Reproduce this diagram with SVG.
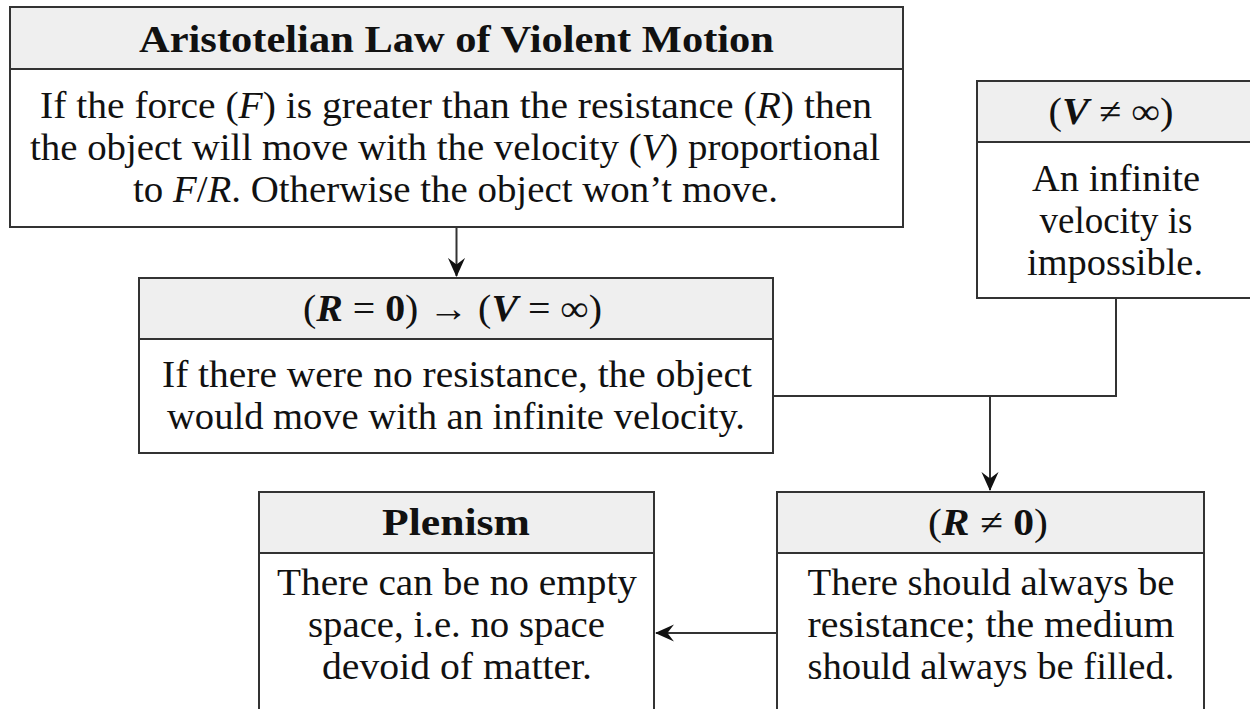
<svg xmlns="http://www.w3.org/2000/svg" width="1250" height="709" viewBox="0 0 1250 709">
<style>
.hd{fill:#efefef;stroke:#333;stroke-width:2}
.bd{fill:#ffffff;stroke:#333;stroke-width:2}
text{font-family:"Liberation Serif","Times New Roman",serif;font-size:37px;fill:#111;text-anchor:middle}
.b{font-weight:bold}
.i{font-style:italic}
.bi{font-weight:bold;font-style:italic}
.con{fill:none;stroke:#333;stroke-width:2}
</style>
<defs>
<marker id="arr" viewBox="0 0 20 20" refX="19" refY="10" markerWidth="19" markerHeight="19" markerUnits="userSpaceOnUse" orient="auto">
<path d="M0,1 L20,10 L0,19 L7,10 z" fill="#111"/>
</marker>
</defs>
<rect width="1250" height="709" fill="#fff"/>
<g id="connectors">
<path class="con" d="M456.5,227 V276" marker-end="url(#arr)"/>
<path class="con" d="M1116,298 V396 H990"/>
<path class="con" d="M773,396 H990 V490" marker-end="url(#arr)"/>
<path class="con" d="M777,633 H656" marker-end="url(#arr)"/>
</g>
<g id="node-law">
<rect class="bd" x="10" y="69" width="893" height="158"/>
<rect class="hd" x="10" y="7" width="893" height="62"/>
<text class="b" x="456.5" y="52" textLength="635" lengthAdjust="spacingAndGlyphs">Aristotelian Law of Violent Motion</text>
<text x="456" y="118" textLength="832" lengthAdjust="spacingAndGlyphs">If the force (<tspan class="i">F</tspan>) is greater than the resistance (<tspan class="i">R</tspan>) then</text>
<text x="455" y="160" textLength="850" lengthAdjust="spacingAndGlyphs">the object will move with the velocity (<tspan class="i">V</tspan>) proportional</text>
<text x="455.5" y="202" textLength="645" lengthAdjust="spacingAndGlyphs">to <tspan class="i">F</tspan>/<tspan class="i">R</tspan>. Otherwise the object won’t move.</text>
</g>
<g id="node-vinf">
<rect class="bd" x="977" y="142" width="276" height="156"/>
<rect class="hd" x="977" y="81" width="276" height="61"/>
<text x="1111" y="124" textLength="125" lengthAdjust="spacingAndGlyphs">(<tspan class="bi">V</tspan> ≠ ∞)</text>
<text x="1116" y="191" textLength="168" lengthAdjust="spacingAndGlyphs">An infinite</text>
<text x="1116" y="233" textLength="153" lengthAdjust="spacingAndGlyphs">velocity is</text>
<text x="1115" y="275" textLength="176" lengthAdjust="spacingAndGlyphs">impossible.</text>
</g>
<g id="node-r0">
<rect class="bd" x="139" y="339" width="634" height="114"/>
<rect class="hd" x="139" y="278" width="634" height="61"/>
<text x="452.5" y="321" textLength="299" lengthAdjust="spacingAndGlyphs">(<tspan class="bi">R</tspan> = <tspan class="b">0</tspan>) → (<tspan class="bi">V</tspan> = ∞)</text>
<text x="457" y="387" textLength="590" lengthAdjust="spacingAndGlyphs">If there were no resistance, the object</text>
<text x="456" y="429" textLength="578" lengthAdjust="spacingAndGlyphs">would move with an infinite velocity.</text>
</g>
<g id="node-plenism">
<rect class="bd" x="259" y="553" width="395" height="170"/>
<rect class="hd" x="259" y="492" width="395" height="61"/>
<text class="b" x="456" y="535" textLength="148" lengthAdjust="spacingAndGlyphs">Plenism</text>
<text x="457" y="595" textLength="360" lengthAdjust="spacingAndGlyphs">There can be no empty</text>
<text x="456.5" y="637" textLength="297" lengthAdjust="spacingAndGlyphs">space, i.e. no space</text>
<text x="457" y="679" textLength="270" lengthAdjust="spacingAndGlyphs">devoid of matter.</text>
</g>
<g id="node-rne0">
<rect class="bd" x="777" y="553" width="427" height="170"/>
<rect class="hd" x="777" y="492" width="427" height="61"/>
<text x="988" y="535" textLength="120" lengthAdjust="spacingAndGlyphs">(<tspan class="bi">R</tspan> ≠ <tspan class="b">0</tspan>)</text>
<text x="991" y="595" textLength="367" lengthAdjust="spacingAndGlyphs">There should always be</text>
<text x="991" y="637" textLength="367" lengthAdjust="spacingAndGlyphs">resistance; the medium</text>
<text x="991" y="679" textLength="367" lengthAdjust="spacingAndGlyphs">should always be filled.</text>
</g>
</svg>
